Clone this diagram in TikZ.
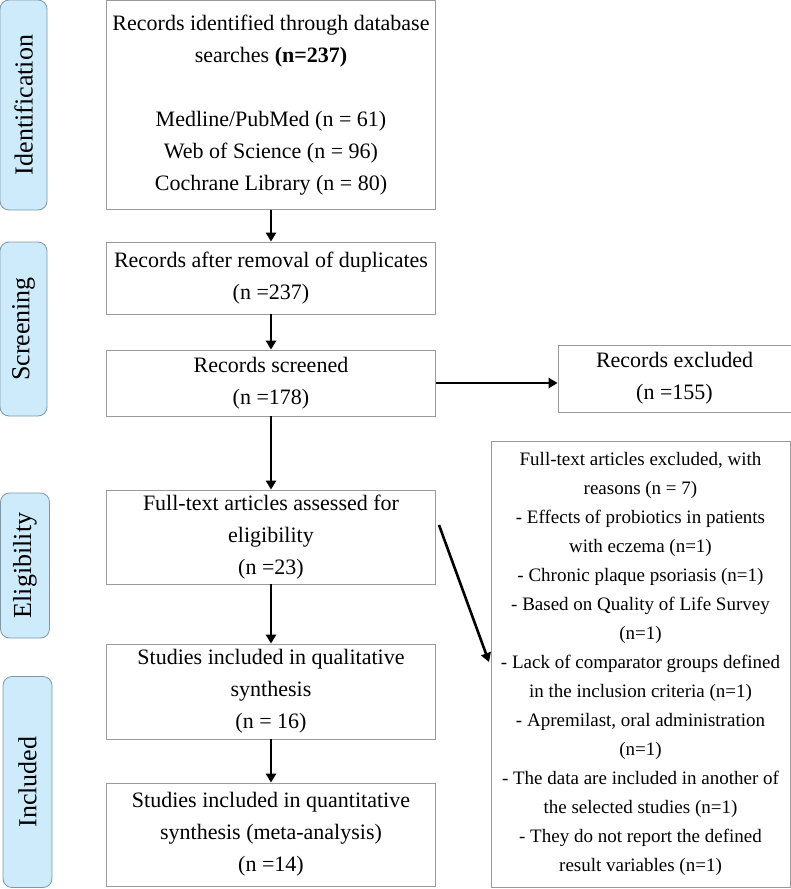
\documentclass[tikz,border=0pt]{standalone}
\usepackage{fontspec}
\setmainfont{Liberation Serif}
\usetikzlibrary{arrows.meta}
\definecolor{tabfill}{HTML}{CDEBFA}
\definecolor{tabdraw}{HTML}{7E98A6}
\definecolor{boxdraw}{HTML}{9A9A9A}
\tikzset{
  phase/.style={draw=tabdraw, fill=tabfill, rounded corners=9pt, line width=0.8pt, inner sep=0pt},
  phasetext/.style={rotate=90, font=\fontsize{26}{28}\selectfont, inner sep=0pt},
  stagebox/.style={draw=boxdraw, line width=0.8pt, align=center, inner sep=0pt,
     font=\fontsize{22}{32}\selectfont},
  sidebox/.style={draw=boxdraw, line width=0.8pt, align=center, inner sep=0pt,
     font=\fontsize{19}{29}\selectfont},
  flow/.style={line width=2.6pt, -{Triangle[length=9pt,width=10pt]}}
}
\begin{document}
\begin{tikzpicture}[x=1pt,y=-1pt]
\useasboundingbox (0,0) rectangle (791,889);
% phase tabs
\node[phase, minimum width=47pt, minimum height=210pt] (tid) at (23.5,105) {};
\node[phasetext] (lid) at (tid.center) {Identification};
\node[phase, minimum width=47pt, minimum height=174pt] (tsc) at (23.5,329) {};
\node[phasetext] (lsc) at (tsc.center) {Screening};
\node[phase, minimum width=49pt, minimum height=145pt] (tel) at (25,565.5) {};
\node[phasetext] (lel) at (tel.center) {Eligibility};
\node[phase, minimum width=49pt, minimum height=211pt] (tin) at (27.5,782) {};
\node[phasetext] (lin) at (tin.center) {Included};
% main boxes
\node[stagebox, minimum width=329pt, minimum height=209pt] (b1) at (271,105) {Records identified through database\\searches \textbf{(n=237)}\\[32pt]Medline/PubMed (n = 61)\\Web of Science (n = 96)\\Cochrane Library (n = 80)};
\node[stagebox, minimum width=329pt, minimum height=72pt] (b2) at (271,278) {Records after removal of duplicates\\(n =237)};
\node[stagebox, minimum width=329pt, minimum height=66pt] (b3) at (271,383) {Records screened\\(n =178)};
\node[stagebox, minimum width=233pt, minimum height=67pt] (ex) at (674.5,378.5) {Records excluded\\(n =155)};
\node[stagebox, minimum width=329pt, minimum height=94pt] (b4) at (271,537) {Full-text articles assessed for\\eligibility\\(n =23)};
\node[stagebox, minimum width=329pt, minimum height=95pt] (b5) at (271,691.5) {Studies included in qualitative\\synthesis\\(n = 16)};
\node[stagebox, minimum width=329pt, minimum height=103pt] (b6) at (271,834.5) {Studies included in quantitative\\synthesis (meta-analysis)\\(n =14)};
\node[sidebox, minimum width=299pt, minimum height=446pt] (fx) at (640.5,664) {Full-text articles excluded, with\\reasons (n = 7)\\- Effects of probiotics in patients\\with eczema (n=1)\\- Chronic plaque psoriasis (n=1)\\- Based on Quality of Life Survey\\(n=1)\\- Lack of comparator groups defined\\in the inclusion criteria (n=1)\\- Apremilast, oral administration\\(n=1)\\- The data are included in another of\\the selected studies (n=1)\\- They do not report the defined\\result variables (n=1)};
% connectors
\coordinate (dstart) at (439,525);
\coordinate (dend) at (489,662);
\draw[flow] (b1.south) -- (b2.north);
\draw[flow] (b2.south) -- (b3.north);
\draw[flow] (b3.east) -- (b3.east -| ex.west);
\draw[flow] (b3.south) -- (b4.north);
\draw[flow] (b4.south) -- (b5.north);
\draw[flow] (b5.south) -- (b6.north);
\draw[flow] (dstart) -- (dend);
\end{tikzpicture}
\end{document}
